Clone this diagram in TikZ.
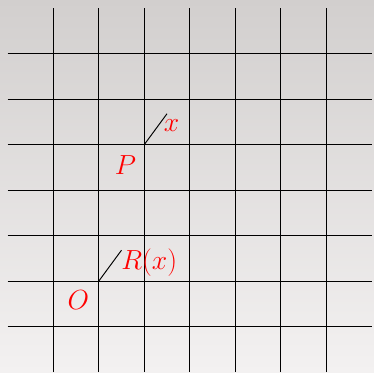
\documentclass[tikz,border=0pt]{standalone}
\begin{document}
\begin{tikzpicture}
\shade[top color={rgb,255:red,210;green,207;blue,206}, bottom color={rgb,255:red,243;green,241;blue,241}] (-0.17,0) rectangle (8.05,8.18);
\useasboundingbox (-0.17,0) rectangle (8.05,8.18);
\foreach \i in {1,...,7} {
  \draw[line width=0.6pt] (\i,0) -- (\i,8);
  \draw[line width=0.6pt] (0,\i) -- (8,\i);
}
\coordinate (P) at (3,5);
\coordinate (Ptip) at (3.5,5.68);
\coordinate (O) at (2,2);
\coordinate (Otip) at (2.5,2.68);
\draw[line width=0.6pt] (P) -- (Ptip);
\draw[line width=0.6pt] (O) -- (Otip);
\node[text=red, font=\LARGE, inner sep=0] (plabel) at (2.59,4.55) {$P$};
\node[text=red, font=\LARGE, inner sep=0] (xlabel) at (3.60,5.42) {$x$};
\node[text=red, font=\LARGE, inner sep=0] (olabel) at (1.55,1.59) {$O$};
\node[text=red, font=\LARGE, inner sep=0] (rlabel) at (3.11,2.40) {$R(x)$};
\end{tikzpicture}
\end{document}
